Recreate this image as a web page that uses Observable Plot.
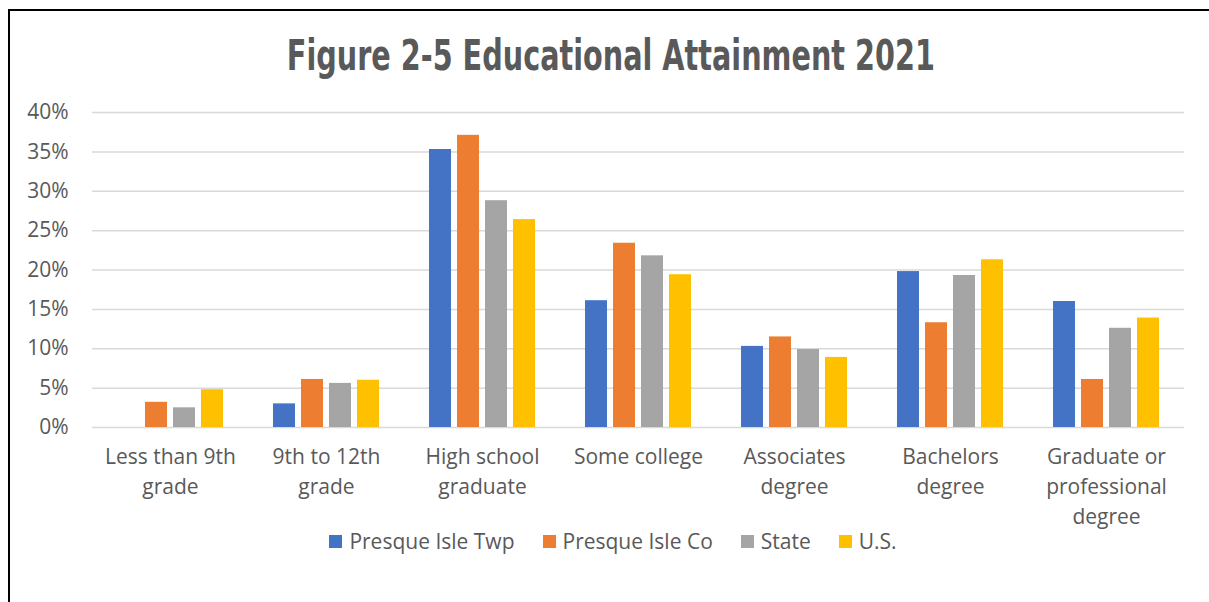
<!DOCTYPE html>
<html>
<head>
<meta charset="utf-8">
<script src="https://cdn.jsdelivr.net/npm/d3@7"></script>
<script src="https://cdn.jsdelivr.net/npm/@observablehq/plot@0.6"></script>
<style>
  body { margin: 0; background: #fff; }
  #frame { position: relative; width: 1209px; height: 602px; overflow: hidden; font-family: "Open Sans", "Noto Sans", sans-serif; color: #595959; }
  #border { position: absolute; left: 8px; top: 9px; width: 1300px; height: 700px; border-left: 2px solid #000; border-top: 2px solid #000; }
  #title { position: absolute; left: 0; top: 35px; width: 1222px; text-align: center; white-space: nowrap; }
  #title span { display: inline-block; font-family: "Liberation Sans Narrow", "DejaVu Sans Condensed", "Liberation Sans", sans-serif; font-weight: bold; font-size: 42px; line-height: 42px; color: #595959; transform-origin: center; }
  #chart { position: absolute; left: 0; top: 90px; }
  #legend { position: absolute; left: 0; top: 527px; width: 1226px; display: flex; justify-content: center; gap: 28px; font-size: 21px; line-height: 28px; }
  #legend .item { display: flex; align-items: center; gap: 7px; }
  #legend .sw { width: 13px; height: 13px; display: inline-block; }
</style>
</head>
<body>
<div id="frame">
  <div id="border"></div>
  <div id="title"><span>Figure 2-5 Educational Attainment 2021</span></div>
  <div id="chart"></div>
  <div id="legend"></div>
</div>
<script>
const categories = [
  "Less than 9th\ngrade",
  "9th to 12th\ngrade",
  "High school\ngraduate",
  "Some college",
  "Associates\ndegree",
  "Bachelors\ndegree",
  "Graduate or\nprofessional\ndegree"
];
const series = ["Presque Isle Twp", "Presque Isle Co", "State", "U.S."];
const colors = ["#4472C4", "#ED7D31", "#A5A5A5", "#FFC000"];
const twpValues   = [0.0, 3.0, 35.3, 16.1, 10.3, 19.8, 16.0];
const coValues    = [3.2, 6.1, 37.1, 23.4, 11.5, 13.3, 6.1];
const stateValues = [2.5, 5.6, 28.8, 21.8, 9.9, 19.3, 12.6];
const usValues    = [4.8, 6.0, 26.4, 19.4, 8.9, 21.3, 13.9];
const yTicks = [0, 5, 10, 15, 20, 25, 30, 35, 40];

const valueLists = [twpValues, coValues, stateValues, usValues];
const data = [];
categories.forEach((c, i) => {
  series.forEach((s, j) => data.push({category: c, series: s, value: valueLists[j][i]}));
});

const chart = Plot.plot({
  width: 1209,
  height: 460,
  marginLeft: 90,
  marginRight: 24,
  marginTop: 22,
  marginBottom: 123,
  style: {fontFamily: '"Open Sans", "Noto Sans", sans-serif', fontSize: "21px", color: "#595959", background: "transparent"},
  fx: {domain: categories, padding: 0, label: null},
  x: {domain: series, paddingInner: 0.21, paddingOuter: 0.85, axis: null},
  y: {domain: [0, 40], label: null},
  color: {domain: series, range: colors},
  marks: [
    Plot.gridY(yTicks, {stroke: "#D9D9D9", strokeOpacity: 1, strokeWidth: 1.5}),
    Plot.axisY(yTicks, {tickSize: 0, tickPadding: 24, tickFormat: d => d + "%", fontSize: 21, label: null}),
    Plot.axisFx({anchor: "bottom", tickSize: 0, tickPadding: 15, fontSize: 21, lineHeight: 1.43, label: null}),
    Plot.barY(data, {fx: "category", x: "series", y: "value", fill: "series"})
  ]
});
document.getElementById("chart").appendChild(chart);

const legend = document.getElementById("legend");
series.forEach((s, j) => {
  const item = document.createElement("div");
  item.className = "item";
  const sw = document.createElement("span");
  sw.className = "sw";
  sw.style.background = colors[j];
  const label = document.createElement("span");
  label.textContent = s;
  item.appendChild(sw);
  item.appendChild(label);
  legend.appendChild(item);
});

const t = document.querySelector("#title span");
const w = t.getBoundingClientRect().width;
t.style.transform = `scaleX(${648 / w})`;
</script>
</body>
</html>
